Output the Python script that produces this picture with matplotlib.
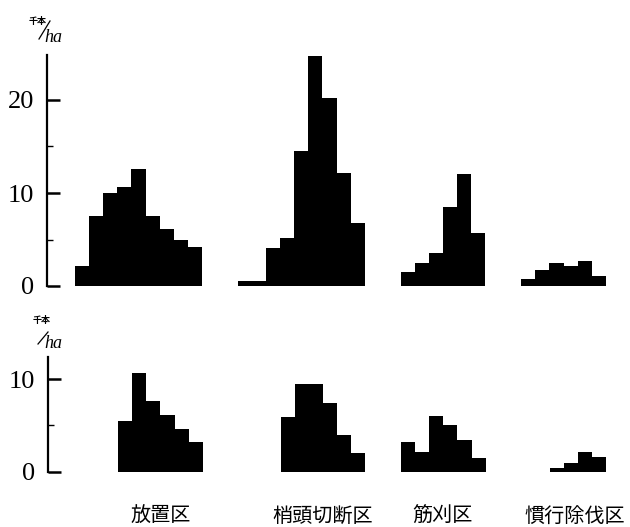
import matplotlib
matplotlib.use("Agg")
import matplotlib.pyplot as plt
from matplotlib.lines import Line2D
import numpy as np

# treatment plots (x labels under the lower panel)
plots = ["放置区", "梢頭切断区", "筋刈区", "慣行除伐区"]

# density per class, thousand stems / ha (upper panel)
upper_hochi = [2.2, 7.5, 10.0, 10.6, 12.6, 7.5, 6.1, 5.0, 4.2]
upper_shoto = [0.5, 0.5, 4.1, 5.2, 14.5, 24.7, 20.2, 12.2, 6.8]
upper_sujigari = [1.5, 2.5, 3.6, 8.5, 12.0, 5.7]
upper_kanko = [0.7, 1.7, 2.5, 2.1, 2.7, 1.1]

# lower panel (0 = no bar in that class)
lower_hochi = [0, 0, 0, 5.5, 10.7, 7.6, 6.1, 4.6, 3.2]
lower_shoto = [0, 0, 0, 5.9, 9.5, 9.5, 7.4, 4.0, 2.0]
lower_sujigari = [3.2, 2.1, 6.0, 5.0, 3.4, 1.5]
lower_kanko = [0, 0, 0.4, 0.9, 2.1, 1.55]

upper_ticks = [0, 10, 20]
lower_ticks = [0, 10]

GAP = 2.55
FONT_NUM = "Liberation Serif"
FONT_JP = ["Noto Sans CJK JP", "DejaVu Sans"]


def group_starts(groups):
    starts, pos = [], 0.0
    for g in groups:
        starts.append(pos)
        pos += len(g) + GAP
    return starts


def draw_panel(ax, groups, ticks, minor, ymax):
    starts = group_starts(groups)
    for start, vals in zip(starts, groups):
        x = start + np.arange(len(vals))
        ax.bar(x, vals, width=1.0, align="edge", color="black", linewidth=0)
    ax.set_xlim(-1.99, 39.36)
    ax.set_ylim(0, ymax)
    for side in ("top", "right", "bottom"):
        ax.spines[side].set_visible(False)
    ax.spines["left"].set_linewidth(1.6)
    ax.set_xticks([])
    ax.set_yticks(ticks)
    ax.set_yticks(minor, minor=True)
    ax.tick_params(axis="y", which="major", direction="in", length=9.5, width=1.8,
                   pad=9, labelsize=19)
    ax.tick_params(axis="y", which="minor", direction="in", length=4, width=1.0)
    for lab in ax.get_yticklabels():
        lab.set_fontfamily(FONT_NUM)
    ax.set_facecolor("none")
    return starts


def unit_label(fig, cx_kanji, cy_kanji, slash, cx_ha, cy_ha):
    W, H = 630, 527
    fig.text(cx_kanji / W, 1 - cy_kanji / H, "千本", family=FONT_JP, fontsize=6.5,
             fontweight="bold", ha="center", va="center")
    (x0, y0), (x1, y1) = slash
    fig.add_artist(Line2D([x0 / W, x1 / W], [1 - y0 / H, 1 - y1 / H],
                          color="black", linewidth=0.9, transform=fig.transFigure))
    fig.text(cx_ha / W, 1 - cy_ha / H, "ha", family=FONT_NUM, style="italic",
             fontsize=13, ha="center", va="center")


fig = plt.figure(figsize=(6.3, 5.27), dpi=100)
W, H = 630, 527

ax_top = fig.add_axes([47 / W, 1 - 286 / H, (W - 47) / W, 24.8 * 9.3 / H])
draw_panel(ax_top, [upper_hochi, upper_shoto, upper_sujigari, upper_kanko],
           upper_ticks, [5, 15], 24.8)

ax_bot = fig.add_axes([48 / W, 1 - 471.7 / H, (W - 48) / W, 12.4 * 9.27 / H])
starts = draw_panel(ax_bot, [lower_hochi, lower_shoto, lower_sujigari, lower_kanko],
                    lower_ticks, [5], 12.4)

label_x = [161, 323, 443, 575]
for name, px in zip(plots, label_x):
    fig.text(px / W, 1 - 516 / H, name, family=FONT_JP, fontsize=14.5,
             ha="center", va="center")

unit_label(fig, 37.5, 21.5, ((39, 39), (50, 21)), 53, 37)
unit_label(fig, 41.5, 321, ((38, 344), (48, 332)), 53, 344)

fig.savefig("out.png", dpi=100)
